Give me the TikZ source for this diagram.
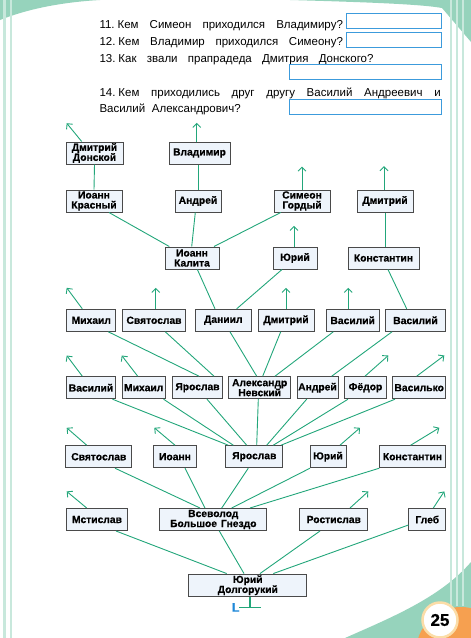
\documentclass[tikz,border=0pt]{standalone}
\usepackage{fontspec}
\setmainfont{Liberation Sans}
\newfontfamily\boxfont[FakeBold=0.5]{Liberation Sans Bold}
\usetikzlibrary{arrows.meta}
\definecolor{lgreen}{HTML}{22A67A}
\definecolor{boxfill}{HTML}{EEF4FB}
\definecolor{boxline}{HTML}{4A4A4A}
\definecolor{ansblue}{HTML}{3C9BDC}
\definecolor{mint}{HTML}{96D3BC}
\definecolor{mintline}{HTML}{C8E8DC}
\definecolor{orangeb}{HTML}{F6A050}
\definecolor{ringc}{HTML}{FBDDA8}
\definecolor{lblue}{HTML}{1E88D8}
\begin{document}
\begin{tikzpicture}[x=1pt,y=-1pt,
  pbox/.style={draw=boxline, fill=boxfill, line width=1pt, minimum height=22pt,
    inner xsep=0.5pt, inner ysep=0pt, align=center,
    font=\boxfont\fontsize{10.3}{10}\selectfont},
  conn/.style={draw=lgreen, line width=0.9pt},
  arr/.style={conn, -{Straight Barb[length=4pt,width=8pt]}},
  qtext/.style={inner sep=0pt, anchor=base west, font=\fontsize{11.5}{13}\selectfont},
  ansbox/.style={draw=ansblue, line width=1pt, fill=white, inner sep=0pt, anchor=north west}]
\useasboundingbox (0,0) rectangle (471,638);
% decoration
\fill[mint] (0,0) -- (0,20) .. controls (30,8) and (65,2) .. (100,0) -- cycle;
\fill[mint] (290,0) .. controls (360,2) and (420,4) .. (442,8) -- (471,42) -- (471,0) -- cycle;
\fill[mint] (345,638) .. controls (390,618) and (440,598) .. (471,562) -- (471,638) -- cycle;
\draw[mintline, line width=2.4pt] (4.5,0) -- (4.5,638);
\draw[mintline, line width=2.4pt] (11.2,0) -- (11.2,638);
\draw[mintline, line width=2pt] (451,0) -- (451,606);
\draw[mintline, line width=2pt] (457,0) -- (457,606);
\draw[mintline, line width=2pt] (463,0) -- (463,606);
\begin{scope}
\clip (0,0) rectangle (471,638);
\fill[orangeb] (461,652) circle[radius=45];
\end{scope}
\node[circle, fill=white, draw=ringc, line width=2.5pt, minimum size=35pt, inner sep=0pt,
  font=\boxfont\fontsize{17}{17}\selectfont] (pg) at (440,620) {25};
% questions
\node[qtext] (q11) at (99.3,28) {\makebox[243.4pt][s]{11.\kern3pt Кем Симеон приходился Владимиру?}};
\node[qtext] (q12) at (99.3,45) {\makebox[243.4pt][s]{12.\kern3pt Кем Владимир приходился Симеону?}};
\node[qtext] (q13) at (99.3,62.7) {\makebox[274pt][s]{13.\kern3pt Как звали прапрадеда Дмитрия Донского?}};
\node[qtext] (q14) at (99.3,96.7) {\makebox[341.3pt][s]{14.\kern3pt Кем приходились друг другу Василий Андреевич и}};
\node[qtext] (q14b) at (99.3,112.9) {\makebox[141.3pt][s]{Василий Александрович?}};
\node[ansbox, minimum width=95pt, minimum height=15.6pt] (a11) at (345.7,12.7) {};
\node[ansbox, minimum width=95pt, minimum height=15pt] (a12) at (345.7,31.7) {};
\node[ansbox, minimum width=152pt, minimum height=15.3pt] (a13) at (288.7,64) {};
\node[ansbox, minimum width=152pt, minimum height=15.6pt] (a14) at (288.7,98.7) {};
% row A
\node[pbox, minimum width=57pt] (dd) at (94.5,153) {Дмитрий\\Донской};
\node[pbox, minimum width=61pt] (vl) at (199.5,153) {Владимир};
% row B
\node[pbox, minimum width=56pt] (ik) at (94,201) {Иоанн\\Красный};
\node[pbox, minimum width=46pt] (an) at (198,201) {Андрей};
\node[pbox, minimum width=56pt] (sg) at (302,201) {Симеон\\Гордый};
\node[pbox, minimum width=56pt] (dm) at (385,201) {Дмитрий};
% row C
\node[pbox, minimum width=54pt] (ikal) at (192,258) {Иоанн\\Калита};
\node[pbox, minimum width=44pt] (yu1) at (295,258) {Юрий};
\node[pbox, minimum width=71pt] (ko1) at (383.5,258) {Константин};
% row D
\node[pbox, minimum width=49.3pt] (mi1) at (91.3,320.3) {Михаил};
\node[pbox, minimum width=63.4pt] (sv1) at (154,320.3) {Святослав};
\node[pbox, minimum width=56pt] (da) at (223.3,320.3) {Даниил};
\node[pbox, minimum width=56pt] (dm2) at (286,320.3) {Дмитрий};
\node[pbox, minimum width=53.3pt] (va1) at (352.7,320.3) {Василий};
\node[pbox, minimum width=60.4pt] (va2) at (415.5,320.3) {Василий};
% row E
\node[pbox, minimum width=48.6pt] (va3) at (91,387.7) {Василий};
\node[pbox, minimum width=43.3pt] (mi2) at (143.7,387.7) {Михаил};
\node[pbox, minimum width=49.6pt] (ya1) at (197.5,387.7) {Ярослав};
\node[pbox, minimum width=62pt] (an2) at (259.7,387.7) {Александр\\Невский};
\node[pbox, minimum width=41pt] (an3) at (317.5,387.7) {Андрей};
\node[pbox, minimum width=42.4pt] (fe) at (365.5,387.7) {Фёдор};
\node[pbox, minimum width=53pt] (vk) at (419.2,387.7) {Василько};
% row F
\node[pbox, minimum width=65.7pt] (sv2) at (98.8,456.7) {Святослав};
\node[pbox, minimum width=43.4pt] (io) at (175,456.7) {Иоанн};
\node[pbox, minimum width=56.7pt] (ya2) at (254.3,456.7) {Ярослав};
\node[pbox, minimum width=36pt] (yu2) at (328,456.7) {Юрий};
\node[pbox, minimum width=66.4pt] (ko2) at (412.5,456.7) {Константин};
% row G
\node[pbox, minimum width=60.6pt] (ms) at (97,519.5) {Мстислав};
\node[pbox, minimum width=106.7pt] (vs) at (213.3,519.5) {Всеволод\\Большое\kern4pt Гнездо};
\node[pbox, minimum width=67.7pt] (ro) at (333.8,519.5) {Ростислав};
\node[pbox, minimum width=36.7pt] (gl) at (427.3,519.5) {Глеб};
% row H
\node[pbox, minimum width=117.7pt, minimum height=22.3pt] (yd) at (247.8,585.2) {Юрий\\Долгорукий};
% vertical connectors
\draw[conn] (ik.north) -- (dd.south);
\draw[conn] (an.north) -- (an.north |- vl.south);
\draw[conn] (ko1.north -| dm.south) -- (dm.south);
% Kalita
\draw[conn] ([xshift=-22.7pt]ikal.north) -- ([xshift=15pt]ik.south);
\draw[conn] ([xshift=-0.3pt]ikal.north) -- ([xshift=-2.7pt]an.south);
\draw[conn] ([xshift=22pt]ikal.north) -- ([xshift=-21.3pt]sg.south);
% row D to C
\draw[conn] ([xshift=-8.3pt]da.north) -- ([xshift=5.4pt]ikal.south);
\draw[conn] ([xshift=13.4pt]da.north) -- ([xshift=-13pt]yu1.south);
\draw[conn] ([xshift=-8.8pt]va2.north) -- ([xshift=4.5pt]ko1.south);
% row E to D
\draw[conn] ([xshift=1.5pt]ya1.north) -- ([xshift=17pt]mi1.south);
\draw[conn] ([xshift=16.5pt]ya1.north) -- ([xshift=11.3pt]sv1.south);
\draw[conn] ([xshift=-3pt]an2.north) -- ([xshift=6.7pt]da.south);
\draw[conn] ([xshift=3pt]an2.north) -- ([xshift=-5.3pt]dm2.south);
\draw[conn] ([xshift=15.3pt]an2.north) -- ([xshift=-19.4pt]va1.south);
\draw[conn] ([xshift=14.2pt]an3.north) -- ([xshift=-23.5pt]va2.south);
% row F to E
\draw[conn] ([xshift=-26pt]ya2.north) -- ([xshift=21.5pt]va3.south);
\draw[conn] ([xshift=-21pt]ya2.north) -- ([xshift=19.8pt]mi2.south);
\draw[conn] ([xshift=-7.6pt]ya2.north) -- ([xshift=9.5pt]ya1.south);
\draw[conn] ([xshift=2.4pt]ya2.north) -- ([xshift=-1.4pt]an2.south);
\draw[conn] ([xshift=12.4pt]ya2.north) -- ([xshift=-10.8pt]an3.south);
\draw[conn] ([xshift=19pt]ya2.north) -- ([xshift=-17.5pt]fe.south);
\draw[conn] ([xshift=26.7pt]ya2.north) -- ([xshift=-24.2pt]vk.south);
% row G to F
\draw[conn] ([xshift=-13.3pt]vs.north) -- ([xshift=16.2pt]sv2.south);
\draw[conn] ([xshift=-8.3pt]vs.north) -- ([xshift=10pt]io.south);
\draw[conn] ([xshift=8.4pt]vs.north) -- ([xshift=-6pt]ya2.south);
\draw[conn] ([xshift=18.4pt]vs.north) -- ([xshift=-18pt]yu2.south);
\draw[conn] ([xshift=36.7pt]vs.north) -- ([xshift=-33.2pt]ko2.south);
% row H to G
\draw[conn] ([xshift=-21.1pt]yd.north) -- ([xshift=19pt]ms.south);
\draw[conn] ([xshift=-3.8pt]yd.north) -- ([xshift=6pt]vs.south);
\draw[conn] ([xshift=12.2pt]yd.north) -- ([xshift=-13.8pt]ro.south);
\draw[conn] ([xshift=25.5pt]yd.north) -- ([yshift=-5.5pt]gl.west);
% root mark
\coordinate (rt) at ([xshift=2.2pt,yshift=-11pt]yd.south);
\draw[conn, line width=1.2pt] ([xshift=2.2pt]yd.south) -- (rt);
\draw[conn, line width=1.2pt] ([xshift=-10.7pt]rt) -- ([xshift=11pt]rt);
\node[font=\boxfont\fontsize{12.5}{12.5}\selectfont, text=lblue, inner sep=0pt, anchor=base] (lmark) at (235.7,611.7) {L};
% open arrows
\draw[arr] ([xshift=-12.8pt]dd.north) -- ++(-15,-18.3);
\draw[arr] ([xshift=-2.8pt]vl.north) -- ++(0,-18.7);
\draw[arr] (sg.north) -- ++(0,-23);
\draw[arr] ([xshift=-1pt]dm.north) -- ++(0,-23.3);
\draw[arr] ([xshift=-1pt]yu1.north) -- ++(0,-20.7);
\draw[arr] ([xshift=-9pt]mi1.north) -- ++(-15.6,-21);
\draw[arr] ([xshift=1.7pt]sv1.north) -- ++(0,-21);
\draw[arr] (dm2.north) -- ++(0,-21);
\draw[arr] ([xshift=-4.4pt]va1.north) -- ++(0,-21);
\draw[arr] ([xshift=-8.7pt]va3.north) -- ++(-15.6,-20.7);
\draw[arr] ([xshift=-6pt]mi2.north) -- ++(-16,-20.7);
\draw[arr] ([xshift=-0.5pt]fe.north) -- ++(23.3,-20.7);
\draw[arr] ([xshift=-2.5pt]vk.north) -- ++(27.6,-20.7);
\draw[arr] ([xshift=-12.1pt]sv2.north) -- ++(-20,-17.4);
\draw[arr] (io.north) -- ++(-20.7,-17.4);
\draw[arr] ([xshift=12pt]yu2.north) -- ++(20,-17.4);
\draw[arr] ([xshift=-1.8pt]ko2.north) -- ++(28.6,-17.4);
\draw[arr] ([xshift=-10.3pt]ms.north) -- ++(-20,-16.6);
\draw[arr] ([xshift=16.2pt]ro.north) -- ++(18.3,-16.6);
\draw[arr] ([xshift=6pt]gl.north) -- ++(11,-16.6);
\end{tikzpicture}
\end{document}
